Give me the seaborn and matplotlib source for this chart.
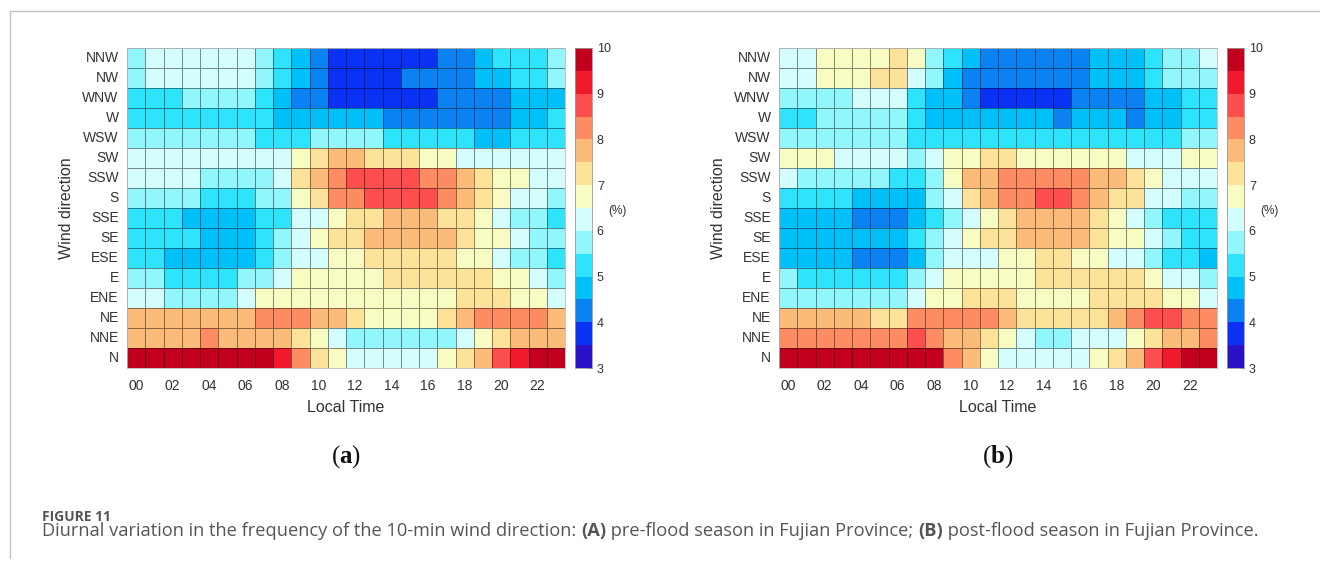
import numpy as np
import pandas as pd
import matplotlib
matplotlib.use("Agg")
import matplotlib.pyplot as plt
from matplotlib.colors import ListedColormap
from matplotlib.lines import Line2D
import seaborn as sns

# ---------------- data ----------------
directions = ["NNW", "NW", "WNW", "W", "WSW", "SW", "SSW", "S",
              "SSE", "SE", "ESE", "E", "ENE", "NE", "NNE", "N"]
hours = ["%02d" % h for h in range(24)]
hour_tick_labels = ["00", "02", "04", "06", "08", "10", "12", "14", "16", "18", "20", "22"]
level_bounds = [3, 10]
cbar_ticks = [3, 4, 5, 6, 7, 8, 9, 10]

# (a) pre-flood season, frequency (%) per direction (rows) and local hour (columns)
pre_flood = [
    [5.7,6.2,6.2,6.2,6.2,6.2,6.2,5.7,5.2,4.7,4.2,3.7,3.7,3.7,3.7,3.7,3.7,4.2,4.2,4.7,5.2,5.2,5.2,5.7],  # NNW
    [5.7,6.2,6.2,6.2,6.2,6.2,6.2,5.7,5.2,4.7,4.2,3.7,3.7,3.7,3.7,4.2,4.2,4.2,4.2,4.7,4.7,5.2,5.2,5.7],  # NW
    [5.2,5.2,5.2,5.7,5.7,5.7,5.7,5.2,4.7,4.2,4.2,3.7,3.7,3.7,3.7,3.7,3.7,4.2,4.2,4.2,4.2,4.7,4.7,4.7],  # WNW
    [5.2,5.2,5.2,5.2,5.2,5.2,5.2,5.2,4.7,4.7,4.7,4.7,4.7,4.7,4.2,4.2,4.2,4.2,4.2,4.2,4.2,4.7,4.7,5.2],  # W
    [5.7,5.7,5.7,5.7,5.7,5.7,5.7,5.2,5.2,5.2,5.7,5.7,5.7,5.7,5.2,5.2,5.2,5.2,5.2,4.7,4.7,5.2,5.2,5.2],  # WSW
    [6.2,6.2,6.2,6.2,6.2,6.2,6.2,6.2,6.2,6.7,7.2,7.7,7.7,7.2,7.2,7.2,6.7,6.7,6.2,6.2,6.2,6.2,6.2,6.2],  # SW
    [6.2,6.2,6.2,6.2,5.7,5.7,5.7,5.7,6.2,7.2,7.7,8.2,8.7,8.7,8.7,8.7,8.2,8.2,7.7,7.2,6.7,6.7,6.2,6.2],  # SSW
    [5.7,5.7,5.7,5.7,5.2,5.2,5.2,5.7,5.7,6.7,7.2,8.2,8.2,8.7,8.7,8.7,8.7,8.2,7.7,7.2,6.7,6.2,6.2,5.7],  # S
    [5.2,5.2,5.2,4.7,4.7,4.7,4.7,5.2,5.2,6.2,6.2,6.7,7.2,7.2,7.7,7.7,7.7,7.2,7.2,6.7,6.2,5.7,5.7,5.2],  # SSE
    [5.2,5.2,5.2,5.2,4.7,4.7,4.7,5.2,5.7,6.2,6.7,7.2,7.2,7.7,7.7,7.7,7.7,7.7,7.2,6.7,6.7,6.2,5.7,5.7],  # SE
    [5.2,5.2,4.7,4.7,4.7,4.7,4.7,5.2,5.7,6.2,6.2,6.7,6.7,7.2,7.2,7.2,7.2,7.2,6.7,6.7,6.2,5.7,5.7,5.2],  # ESE
    [5.7,5.7,5.2,5.2,5.2,5.2,5.7,5.7,6.2,6.7,6.7,6.7,6.7,6.7,7.2,7.2,7.2,7.2,7.2,7.2,6.7,6.7,6.2,5.7],  # E
    [6.2,6.2,5.7,5.7,5.7,5.7,6.2,6.7,6.7,6.7,6.7,6.7,6.7,6.7,6.7,6.7,6.7,6.7,7.2,7.2,7.2,6.7,6.7,6.2],  # ENE
    [7.7,7.7,7.7,7.7,7.7,7.7,7.7,8.2,8.2,8.2,7.7,7.7,7.2,6.7,6.7,6.7,6.7,7.2,7.7,8.2,8.2,8.2,8.2,7.7],  # NE
    [7.7,7.7,7.7,7.7,8.2,7.7,7.7,7.7,7.7,7.2,6.7,6.2,5.7,5.7,5.7,5.7,5.7,5.7,6.2,6.7,7.2,7.7,7.7,7.7],  # NNE
    [9.7,9.7,9.7,9.7,9.7,9.7,9.7,9.7,9.2,8.2,7.2,6.7,6.2,6.2,6.2,6.2,6.2,6.7,7.2,7.7,8.7,9.2,9.7,9.7],  # N
]

# (b) post-flood season
post_flood = [
    [6.2,6.2,6.7,6.7,6.7,6.7,7.2,6.7,5.7,5.2,4.7,4.2,4.2,4.2,4.2,4.2,4.2,4.7,4.7,4.7,5.2,5.7,5.7,6.2],  # NNW
    [6.2,6.2,6.7,6.7,6.7,7.2,7.2,6.2,5.7,4.7,4.2,4.2,4.2,4.2,4.2,4.2,4.2,4.7,4.7,4.7,5.2,5.7,5.7,5.7],  # NW
    [5.7,5.7,5.7,5.7,6.2,6.2,6.2,5.2,4.7,4.7,4.2,3.7,3.7,3.7,3.7,3.7,4.2,4.2,4.2,4.2,4.7,4.7,5.2,5.2],  # WNW
    [5.2,5.2,5.7,5.7,5.7,5.7,5.7,5.2,4.7,4.7,4.7,4.7,4.7,4.7,4.7,4.2,4.7,4.7,4.7,4.2,4.7,4.7,5.2,5.2],  # W
    [5.7,5.7,5.7,5.7,5.7,5.7,5.7,5.2,5.2,5.2,5.2,5.2,5.2,5.2,5.2,5.2,5.2,5.2,5.2,5.2,5.2,5.2,5.7,5.7],  # WSW
    [6.7,6.7,6.7,6.2,6.2,6.2,6.2,5.7,6.2,6.7,6.7,7.2,7.2,6.7,6.7,6.7,6.7,6.7,6.7,6.2,6.2,6.2,6.7,6.7],  # SW
    [6.2,5.7,5.7,5.7,5.7,5.7,5.2,5.2,5.7,6.7,7.7,7.7,8.2,8.2,8.2,8.2,8.2,7.7,7.7,7.2,6.7,6.2,6.2,6.2],  # SSW
    [5.2,5.2,5.2,5.2,4.7,4.7,4.7,4.7,5.7,6.2,7.2,7.7,8.2,8.2,8.7,8.7,8.2,7.7,7.2,7.2,6.2,6.2,5.7,5.7],  # S
    [4.7,4.7,4.7,4.7,4.2,4.2,4.2,4.7,5.2,5.7,6.2,6.7,7.2,7.7,7.7,7.7,7.7,7.2,6.7,6.2,5.7,5.2,5.2,5.2],  # SSE
    [4.7,4.7,4.7,4.7,4.7,4.7,4.7,5.2,5.7,6.2,6.7,7.2,7.2,7.7,7.7,7.7,7.7,7.2,6.7,6.7,6.2,5.7,5.2,5.2],  # SE
    [4.7,4.7,4.7,4.7,4.2,4.2,4.2,4.7,5.7,6.2,6.2,6.2,6.7,6.7,7.2,7.2,6.7,6.7,6.2,6.2,5.7,5.2,5.2,4.7],  # ESE
    [5.7,5.2,5.2,5.2,5.2,5.2,5.2,5.7,6.2,6.7,6.7,6.7,6.7,6.7,7.2,7.2,7.2,7.2,7.2,7.2,6.7,6.2,6.2,5.7],  # E
    [5.7,5.7,5.7,5.7,5.7,5.7,5.7,6.2,6.7,6.7,7.2,7.2,7.2,6.7,6.7,6.7,6.7,7.2,7.2,7.2,7.2,6.7,6.7,6.2],  # ENE
    [7.7,7.7,7.7,7.7,7.7,7.2,7.2,8.2,8.2,8.2,8.2,8.2,7.7,7.2,7.2,7.2,7.2,7.2,7.7,8.2,8.7,8.7,8.2,8.2],  # NE
    [8.2,8.2,8.2,8.2,8.2,8.2,8.2,8.7,8.2,7.7,7.7,7.2,6.7,6.2,5.7,5.7,6.2,6.2,6.2,6.7,7.2,7.7,7.7,8.2],  # NNE
    [9.7,9.7,9.7,9.7,9.7,9.7,9.7,9.7,9.7,8.2,7.7,6.7,6.2,6.2,6.2,6.2,6.2,6.7,7.2,7.7,8.7,9.2,9.7,9.7],  # N
]

level_colors = ["#2b12c9", "#0a32f5", "#0a82f2", "#00c0fa", "#2ee4fd", "#92f6fd", "#d4fdfd",
                "#f8fbc2", "#fde39a", "#fdbb7a", "#fd8c62", "#fd4e4e", "#f01a2c", "#c2001e"]

# ---------------- style ----------------
sns.set_theme(style="white")
plt.rcParams["font.family"] = ["Liberation Sans", "DejaVu Sans"]
plt.rcParams["mathtext.fontset"] = "custom"
plt.rcParams["mathtext.rm"] = "Liberation Serif"
plt.rcParams["mathtext.bf"] = "Liberation Serif:bold"

W, H = 1320, 561
fig = plt.figure(figsize=(W / 100, H / 100), dpi=100)
fig.patch.set_facecolor("white")

def fx(px):
    return px / W

def fy(py):
    return 1 - py / H

cmap = ListedColormap(level_colors)
text_col = "#333333"

panels = [
    (pre_flood, 127, 575, r"$\mathrm{(}\mathbf{a}\mathrm{)}$"),
    (post_flood, 779, 1227, r"$\mathrm{(}\mathbf{b}\mathrm{)}$"),
]
top, bottom = 48, 368
hm_w = 438

for data, x0, cx0, title in panels:
    ax = fig.add_axes([fx(x0), fy(bottom), fx(hm_w), (bottom - top) / H])
    cax = fig.add_axes([fx(cx0), fy(bottom), fx(17), (bottom - top) / H])
    df = pd.DataFrame(data, index=directions, columns=hours)
    sns.heatmap(df, ax=ax, cmap=cmap, vmin=level_bounds[0], vmax=level_bounds[1],
                cbar_ax=cax, linewidths=0.6, linecolor=(0, 0, 0, 0.45))
    ax.set_xticks(np.arange(0, 24, 2) + 0.5)
    ax.set_xticklabels(hour_tick_labels, rotation=0, fontsize=10, color=text_col)
    ax.set_yticks(np.arange(16) + 0.5)
    ax.set_yticklabels(directions, rotation=0, fontsize=10, color=text_col)
    ax.tick_params(axis="x", length=0, pad=8)
    ax.tick_params(axis="y", length=0, pad=6)
    ax.set_xlabel("Local Time", fontsize=11.5, color=text_col, labelpad=5)
    ax.set_ylabel("Wind direction", fontsize=11.5, color=text_col, labelpad=6)
    for s in ax.spines.values():
        s.set_visible(True)
        s.set_color("#bbbbbb")
        s.set_linewidth(0.6)

    cb = ax.collections[0].colorbar
    cb.set_ticks(cbar_ticks)
    cb.ax.tick_params(labelsize=9, colors=text_col, length=3, width=0.6, direction="in")
    for lab in cb.ax.get_yticklabels():
        lab.set_color(text_col)
    cb.outline.set_edgecolor("#999999")
    cb.outline.set_linewidth(0.6)
    fig.text(fx(cx0 + 42), fy(211), "(%)", fontsize=8.5, color=text_col,
             ha="center", va="center")

    fig.text(fx(x0 + hm_w / 2), fy(457), title, fontsize=18, color="#111111",
             ha="center", va="center")

# frame lines
fig.add_artist(Line2D([fx(10), 1.0], [fy(11), fy(11)], color="#c4c4c4", lw=1.0))
fig.add_artist(Line2D([fx(10), fx(10)], [fy(11), fy(558)], color="#c4c4c4", lw=1.0))

# caption
cap_col = "#555555"
fig.text(fx(42), fy(517), "FIGURE 11", fontsize=10, fontweight="bold", color=cap_col,
         family=["Open Sans", "DejaVu Sans"], ha="left", va="center")

renderer = fig.canvas.get_renderer()
pieces = [
    ("Diurnal variation in the frequency of the 10-min wind direction: ", "normal"),
    ("(A)", "bold"),
    (" pre-flood season in Fujian Province; ", "normal"),
    ("(B)", "bold"),
    (" post-flood season in Fujian Province.", "normal"),
]
xpos = 42
for s, w in pieces:
    t = fig.text(fx(xpos), fy(531), s, fontsize=13.15, fontweight=w, color=cap_col,
                 family=["Open Sans", "DejaVu Sans"], ha="left", va="center")
    bb = t.get_window_extent(renderer=renderer)
    xpos += bb.width

fig.savefig("out.png", dpi=100)
